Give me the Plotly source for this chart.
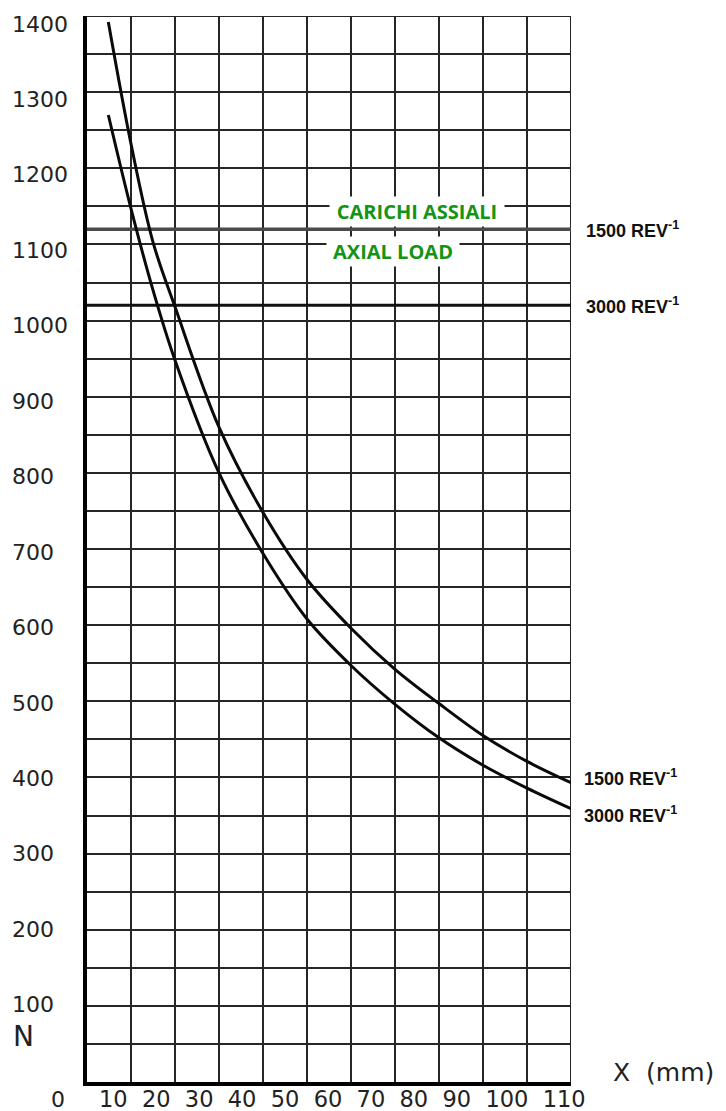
import plotly.graph_objects as go

# -------------------------------
# DATA
# -------------------------------
# curve at 1500 rev-1 : X (mm) -> N
x_1500 = [4.85, 10, 15, 20, 30, 40, 50, 60, 70, 80, 90, 100, 110]
n_1500 = [1392, 1232, 1103, 1018, 860, 748, 660, 596, 542, 497, 455, 421, 393]

# curve at 3000 rev-1
x_3000 = [4.85, 10, 15, 20, 30, 40, 50, 60, 70, 80, 90, 100, 110]
n_3000 = [1270, 1147, 1040, 948, 800, 694, 608, 547, 496, 452, 416, 386, 359]

# axial load limits
axial_speeds = ["1500", "3000"]
axial_loads = [1120, 1020]

x_tick_labels = [10, 20, 30, 40, 50, 60, 70, 80, 90, 100, 110]
y_tick_labels = [100, 200, 300, 400, 500, 600, 700, 800, 900, 1000, 1100, 1200, 1300, 1400]

X_MAX = 110
Y_MAX = 1400

# the page body keeps the browser's 8px margin, so the figure is 8px smaller
PAGE_PAD = 8

GREEN = "#149414"
GRID = "#262626"
TICK_FONT = dict(family="DejaVu Sans", size=22, color="#222")
REV_FONT = dict(family="Liberation Sans", size=18, color="#111")

fig = go.Figure()

# -------------------------------
# AXIAL LOAD LINES
# -------------------------------
fig.add_trace(go.Scatter(x=[0, X_MAX], y=[axial_loads[0]] * 2, mode="lines",
                         line=dict(color="#4a4a4a", width=3.5), hoverinfo="skip"))
fig.add_trace(go.Scatter(x=[0, X_MAX], y=[axial_loads[1]] * 2, mode="lines",
                         line=dict(color="#111", width=3), hoverinfo="skip"))

# -------------------------------
# LOAD CURVES
# -------------------------------
fig.add_trace(go.Scatter(x=x_1500, y=n_1500, mode="lines",
                         line=dict(color="#0a0a0a", width=3, shape="spline", smoothing=1.0)))
fig.add_trace(go.Scatter(x=x_3000, y=n_3000, mode="lines",
                         line=dict(color="#0a0a0a", width=3, shape="spline", smoothing=1.0)))

# grid border at the top and right (plotly drops the edge gridlines)
fig.add_shape(type="line", xref="x", yref="y", x0=X_MAX, x1=X_MAX, y0=0, y1=Y_MAX,
              line=dict(color=GRID, width=2), layer="below")
fig.add_shape(type="line", xref="x", yref="y", x0=0, x1=X_MAX, y0=Y_MAX, y1=Y_MAX,
              line=dict(color=GRID, width=2), layer="below")

annotations = []

# y labels, left aligned at the page edge
for v in y_tick_labels:
    annotations.append(dict(
        x=-77 / 484, xref="paper", xanchor="left",
        y=v, yref="y", yanchor="middle", yshift=1 - (v - 100) / 1300 * 9,
        text=str(v), showarrow=False, font=TICK_FONT,
    ))

# x labels written as one line, as in the original drawing
annotations.append(dict(
    x=10 / 484, xref="paper", xanchor="left",
    y=-17 / 1066, yref="paper", yanchor="middle",
    text="\u00a0\u00a0".join(str(v) for v in x_tick_labels),
    showarrow=False, font=dict(TICK_FONT, size=22.5),
))
annotations.append(dict(x=-29 / 484, xref="paper", xanchor="center",
                        y=-17 / 1066, yref="paper", yanchor="middle",
                        text="0", showarrow=False, font=TICK_FONT))
annotations.append(dict(x=-64 / 484, xref="paper", xanchor="center",
                        y=46 / 1066, yref="paper", yanchor="middle",
                        text="N", showarrow=False, font=dict(TICK_FONT, size=28)))
annotations.append(dict(x=1.0 + 92 / 484, xref="paper", xanchor="center",
                        y=10 / 1066, yref="paper", yanchor="middle",
                        text="X\u00a0\u00a0(mm)", showarrow=False, font=dict(TICK_FONT, size=25)))

# rev labels
for speed, load in zip(axial_speeds, axial_loads):
    annotations.append(dict(x=1.0 + 13 / 484, xref="paper", xanchor="left",
                            y=load, yref="y", yanchor="middle",
                            text=f"<b>{speed} REV<sup>-1</sup></b>",
                            showarrow=False, font=REV_FONT))
for speed, load, shift in zip(axial_speeds, [n_1500[-1], n_3000[-1]], [5, -6]):
    annotations.append(dict(x=1.0 + 11 / 484, xref="paper", xanchor="left",
                            y=load, yref="y", yanchor="middle", yshift=shift,
                            text=f"<b>{speed} REV<sup>-1</sup></b>",
                            showarrow=False, font=REV_FONT))

# green titles with white box hiding the grid
annotations.append(dict(x=(417 - 87) / 484, xref="paper", xanchor="center",
                        y=axial_loads[0], yref="y", yanchor="middle", yshift=18,
                        text="<b>CARICHI ASSIALI</b>", showarrow=False,
                        font=dict(family="Open Sans", size=20, color=GREEN),
                        bgcolor="white", width=172, borderpad=1))
annotations.append(dict(x=(393 - 87) / 484, xref="paper", xanchor="center",
                        y=axial_loads[0], yref="y", yanchor="middle", yshift=-22,
                        text="<b>AXIAL LOAD</b>", showarrow=False,
                        font=dict(family="Open Sans", size=20, color=GREEN),
                        bgcolor="white", width=130, borderpad=1))

fig.update_layout(
    width=726 - PAGE_PAD, height=1111 - PAGE_PAD,
    margin=dict(l=87 - PAGE_PAD, r=155, t=16 - PAGE_PAD, b=29),
    paper_bgcolor="white", plot_bgcolor="white",
    showlegend=False,
    annotations=annotations,
    xaxis=dict(range=[0, X_MAX], tick0=0, dtick=10, showgrid=True,
               gridcolor=GRID, gridwidth=2, zeroline=False,
               showticklabels=False, ticks="",
               showline=True, linecolor="black", linewidth=4),
    yaxis=dict(range=[0, Y_MAX], tick0=0, dtick=50, showgrid=True,
               gridcolor=GRID, gridwidth=2, zeroline=False,
               showticklabels=False, ticks="",
               showline=True, linecolor="black", linewidth=4),
)

fig.write_html("out.html")
